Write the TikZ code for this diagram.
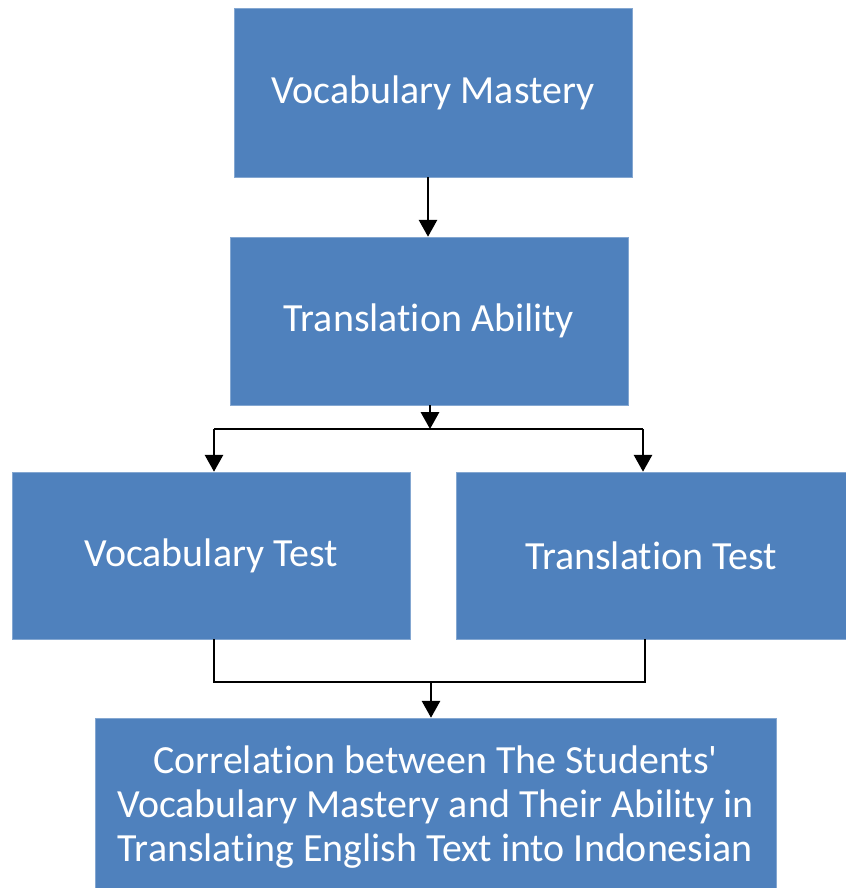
\documentclass[tikz,border=0pt]{standalone}
\usepackage{fontspec}
\setmainfont[Ligatures={NoCommon}]{Carlito}
\usetikzlibrary{arrows.meta}

\definecolor{boxblue}{HTML}{4F81BD}

\begin{document}
\begin{tikzpicture}[x=0.025cm, y=-0.025cm,
    box/.style={rectangle, fill=boxblue, draw=boxblue!70!white, line width=0.4pt,
      text=white, align=center, inner sep=0pt,
      font=\fontsize{28.4}{31}\selectfont},
    link/.style={draw=black, line width=1.1pt},
    arr/.style={link, line width=1.4pt, -{Triangle[width=13pt, length=12pt]}}]

          % Frame
          \useasboundingbox (0,0) rectangle (846,888);

          % Boxes
          \node[box, minimum width=9.95cm, minimum height=4.225cm] (vm) at (433,92.5) {Vocabulary Mastery};
          \node[box, minimum width=9.95cm, minimum height=4.2cm] (ta) at (429,321) {Translation Ability};
          \node[box, minimum width=9.95cm, minimum height=4.175cm] (vt) at (211,555.5) {Vocabulary Test};
          \node[box, minimum width=9.75cm, minimum height=4.175cm] (tt) at (651,555.5) {Translation Test};
          \node[box, minimum width=17.025cm, minimum height=4.45cm] (corr) at (435.5,807)
            {Correlation between The Students\textquotesingle\\ Vocabulary Mastery and Their Ability in\\ Translating English Text into Indonesian};

          % Joints
          \coordinate (split) at (430,429);
          \coordinate (bl) at (214,429);
          \coordinate (br) at (643,429);
          \coordinate (jl) at (214,682);
          \coordinate (jr) at (645,682);
          \coordinate (jm) at (431,682);

          % Arrows
          \draw[arr] (vm.south -| 428,0) -- (ta.north -| 428,0);
          \draw[arr] (ta.south -| split) -- (split);
          \draw[link] (bl) -- (br);
          \draw[arr] (bl) -- (bl |- vt.north);
          \draw[arr] (br) -- (br |- tt.north);

          % Joining line
          \draw[link] (jl |- vt.south) -- (jl) -- (jr) -- (jr |- tt.south);
          \draw[arr] (jm) -- (jm |- corr.north);

        \end{tikzpicture}
\end{document}
